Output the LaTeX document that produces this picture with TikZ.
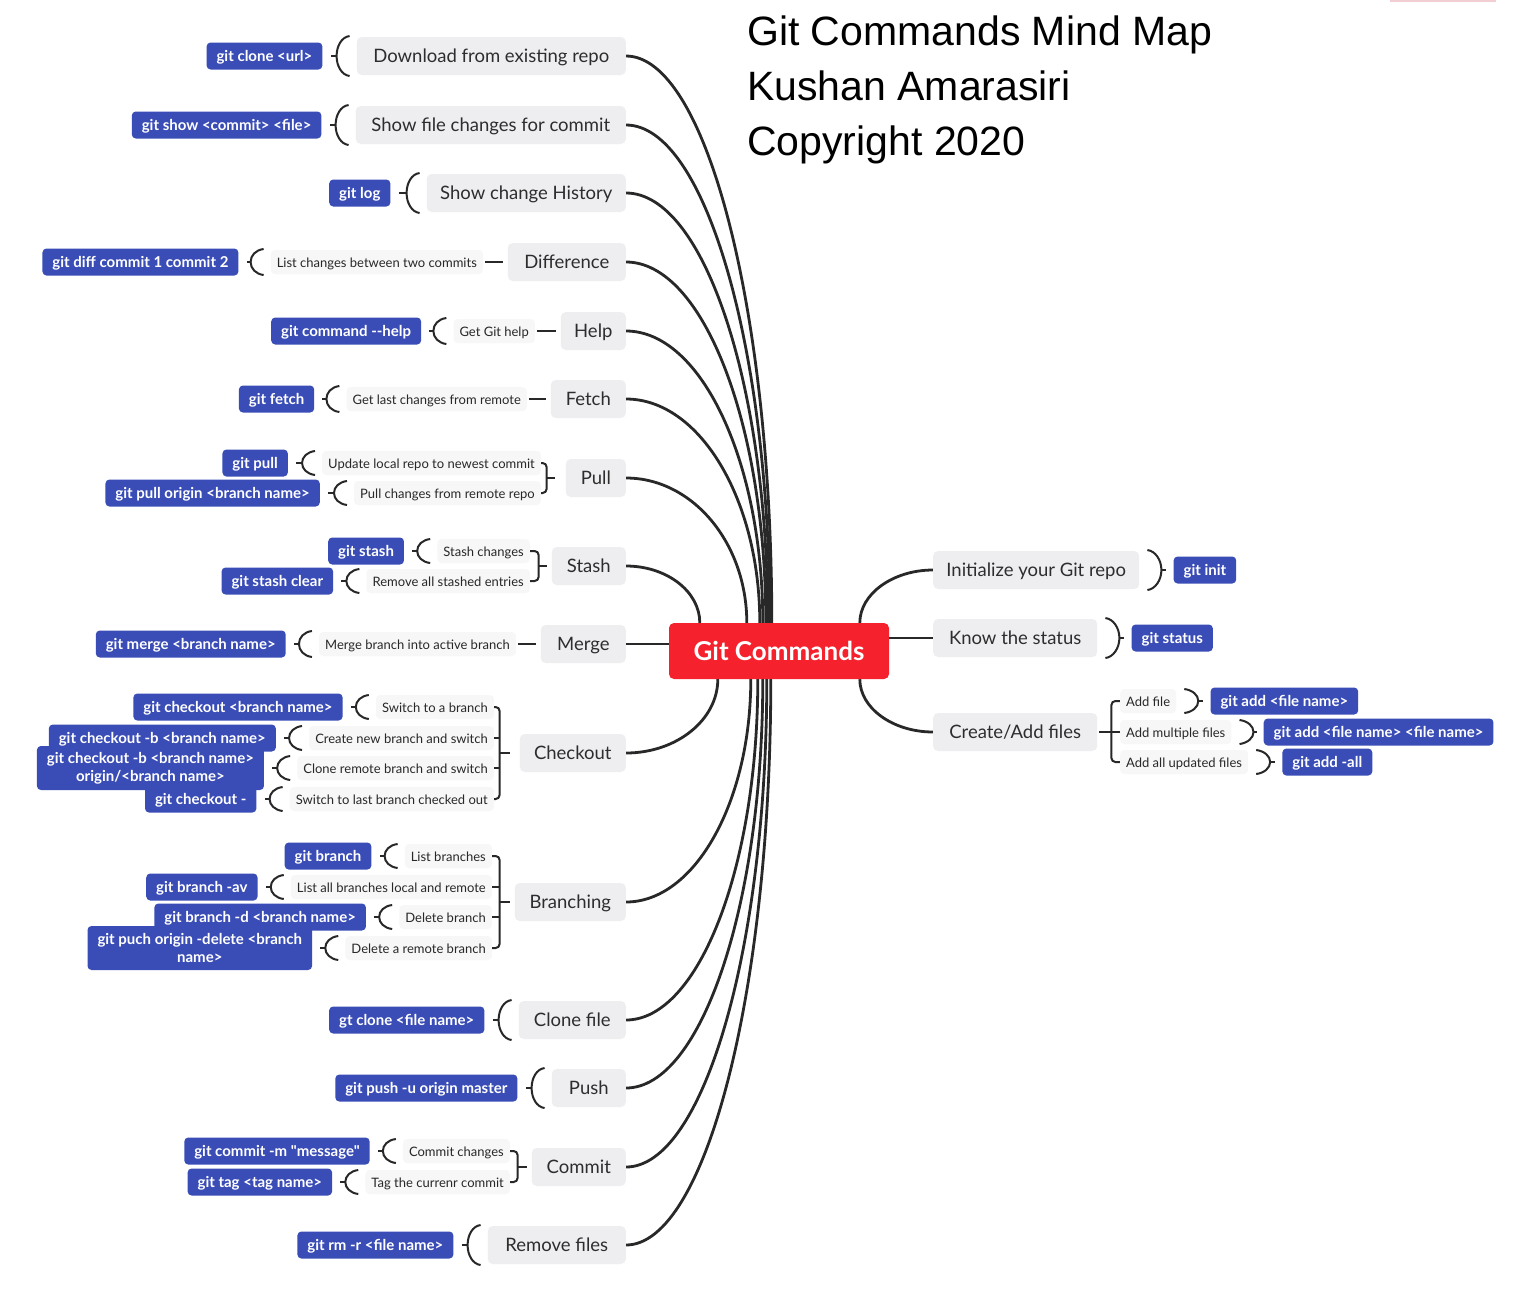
\documentclass[tikz,border=0pt]{standalone}
\usepackage{fontspec}
\setmainfont{Lato}[Ligatures=TeXOff]
\newfontfamily\titlefont{Liberation Sans}
\usetikzlibrary{calc}
\definecolor{topicfill}{RGB}{238,237,240}
\definecolor{descfill}{RGB}{247,247,247}
\definecolor{topictext}{RGB}{45,45,45}
\definecolor{desctext}{RGB}{40,40,40}
\definecolor{cmdblue}{RGB}{58,77,182}
\definecolor{gcred}{RGB}{245,34,45}
\definecolor{linec}{RGB}{40,40,40}
\definecolor{topline}{RGB}{242,205,210}
\pgfdeclarelayer{bg}
\pgfdeclarelayer{lines}
\pgfsetlayers{bg,lines,main}
\tikzset{
  topic/.style={fill=topicfill, rounded corners=5pt, minimum height=38pt, inner sep=0pt,
    text=topictext, font=\fontsize{18.5}{20}\selectfont, text height=15pt, text depth=2pt},
  desc/.style={fill=descfill, rounded corners=4pt, minimum height=24pt, inner xsep=6pt, inner ysep=0pt,
    text=desctext, font=\fontsize{13}{14}\selectfont, text height=11pt, text depth=1pt},
  cmdbase/.style={fill=cmdblue, rounded corners=4pt, inner xsep=10pt, text=white,
    font=\bfseries\fontsize{15}{18}\selectfont},
  cmd/.style={cmdbase, minimum height=27pt, inner ysep=0pt, text height=12.5pt, text depth=1.5pt},
  cmdtwo/.style={cmdbase, align=center, inner ysep=4pt, minimum height=44pt},
  conn/.style={draw=linec, line width=2pt},
  mainconn/.style={draw=linec, line width=2.8pt},
  titletext/.style={anchor=base west, inner sep=0pt, font=\titlefont\fontsize{41}{54}\selectfont},
}
% left bracket "(" : #1 command node (left), #2 node on the right, #3 half height
\newcommand\mylbr[3]{%
  \draw[conn] ($(#2.west)+(-7,-#3)$) .. controls ($(#2.west)+(-15,{-#3+1})$) and ($(#2.west)+(-20,{-0.5*#3})$) .. ($(#2.west)+(-20,0)$)
     .. controls ($(#2.west)+(-20,{0.5*#3})$) and ($(#2.west)+(-15,{#3-1})$) .. ($(#2.west)+(-7,#3)$);
  \draw[conn] ($(#2.west)+(-20,0)$) -- ($(#1.east)+(8,0)$);}
% right bracket ")" : #1 node on the left, #2 command node (right), #3 half height
\newcommand\myrbr[3]{%
  \draw[conn] ($(#1.east)+(8,-#3)$) .. controls ($(#1.east)+(16,{-#3+1})$) and ($(#1.east)+(22,{-0.5*#3})$) .. ($(#1.east)+(22,0)$)
     .. controls ($(#1.east)+(22,{0.5*#3})$) and ($(#1.east)+(16,{#3-1})$) .. ($(#1.east)+(8,#3)$);
  \draw[conn] ($(#1.east)+(22,0)$) -- ($(#2.west)+(-7,0)$);}
% main connectors from left topics to the central node
\newcommand\topconn[3]{%
  \draw[mainconn] (#1.east) .. controls +({0.55*(43+#2)},0) and +(0,{-0.55*(623-#3)}) .. ($(c.north west)+(#2,0)$);}
\newcommand\botconn[3]{%
  \draw[mainconn] (#1.east) .. controls +({0.55*(43+#2)},0) and +(0,{0.55*(#3-679)}) .. ($(c.south west)+(#2,0)$);}
\begin{document}
\begin{tikzpicture}[x=1pt,y=-1pt]
\begin{pgfonlayer}{bg}
\fill[white] (0,0) rectangle (1536,1302);
\fill[topline] (1390,0) rectangle (1496,2);
\end{pgfonlayer}
\useasboundingbox (0,0) rectangle (1536,1302);

% title
\node[titletext] (ti1) at (747,45) {Git Commands Mind Map};
\node[titletext] (ti2) at (747,100) {Kushan Amarasiri};
\node[titletext] (ti3) at (747,155) {Copyright 2020};

% central node
\node[fill=gcred, rounded corners=5pt, minimum width=220pt, minimum height=56pt, inner sep=0pt,
  text=white, font=\bfseries\fontsize{26}{30}\selectfont, text height=21pt, text depth=2pt] (c) at (779,651) {Git Commands};

% ---------------- left topics ----------------
\node[topic, minimum width=269pt, anchor=east] (T1) at (626,56) {Download from existing repo};
\node[topic, minimum width=270pt, anchor=east] (T2) at (626,125) {Show file changes for commit};
\node[topic, minimum width=199pt, anchor=east] (T3) at (626,193) {Show change History};
\node[topic, minimum width=118pt, anchor=east] (T4) at (626,262) {Difference};
\node[topic, minimum width=65pt, anchor=east] (T5) at (626,331) {Help};
\node[topic, minimum width=75pt, anchor=east] (T6) at (626,399) {Fetch};
\node[topic, minimum width=60pt, anchor=east] (T7) at (626,478) {Pull};
\node[topic, minimum width=74pt, anchor=east] (T8) at (626,566) {Stash};
\node[topic, minimum width=85pt, anchor=east] (T9) at (626,644) {Merge};
\node[topic, minimum width=106pt, anchor=east] (T10) at (626,753) {Checkout};
\node[topic, minimum width=111pt, anchor=east] (T11) at (626,902) {Branching};
\node[topic, minimum width=107pt, anchor=east] (T12) at (626,1020) {Clone file};
\node[topic, minimum width=74pt, anchor=east] (T13) at (626,1088) {Push};
\node[topic, minimum width=94pt, anchor=east] (T14) at (626,1167) {Commit};
\node[topic, minimum width=138pt, anchor=east] (T15) at (626,1245) {Remove files};

% ---------------- descriptions (left) ----------------
\node[desc, anchor=east] (D4) at (483,262) {List changes between two commits};
\node[desc, anchor=east] (D5) at (535,331) {Get Git help};
\node[desc, anchor=east] (D6) at (527,399) {Get last changes from remote};
\node[desc, anchor=east] (D7a) at (541,463) {Update local repo to newest commit};
\node[desc, anchor=east] (D7b) at (541,493) {Pull changes from remote repo};
\node[desc, anchor=east] (D8a) at (530,551) {Stash changes};
\node[desc, anchor=east] (D8b) at (530,581) {Remove all stashed entries};
\node[desc, anchor=east] (D9) at (516,644) {Merge branch into active branch};
\node[desc, anchor=east] (D10a) at (494,707) {Switch to a branch};
\node[desc, anchor=east] (D10b) at (494,738) {Create new branch and switch};
\node[desc, anchor=east] (D10c) at (494,768) {Clone remote branch and switch};
\node[desc, anchor=east] (D10d) at (494,799) {Switch to last branch checked out};
\node[desc, anchor=east] (D11a) at (492,856) {List branches};
\node[desc, anchor=east] (D11b) at (492,887) {List all branches local and remote};
\node[desc, anchor=east] (D11c) at (492,917) {Delete branch};
\node[desc, anchor=east] (D11d) at (492,948) {Delete a remote branch};
\node[desc, anchor=east] (D14a) at (510,1151) {Commit changes};
\node[desc, anchor=east] (D14b) at (510,1182) {Tag the currenr commit};

% ---------------- commands (left) ----------------
\node[cmd, anchor=east] (C1) at ($(T1.west)+(-34,0)$) {git clone <url>};
\node[cmd, anchor=east] (C2) at ($(T2.west)+(-34,0)$) {git show <commit> <file>};
\node[cmd, anchor=east] (C3) at ($(T3.west)+(-36,0)$) {git log};
\node[cmd, anchor=east] (C4) at ($(D4.west)+(-32,0)$) {git diff commit 1 commit 2};
\node[cmd, anchor=east] (C5) at ($(D5.west)+(-32,0)$) {git command --help};
\node[cmd, anchor=east] (C6) at ($(D6.west)+(-32,0)$) {git fetch};
\node[cmd, anchor=east] (C7a) at ($(D7a.west)+(-34,0)$) {git pull};
\node[cmd, anchor=east] (C7b) at ($(D7b.west)+(-34,0)$) {git pull origin <branch name>};
\node[cmd, anchor=east] (C8a) at ($(D8a.west)+(-33,0)$) {git stash};
\node[cmd, anchor=east] (C8b) at ($(D8b.west)+(-33,0)$) {git stash clear};
\node[cmd, anchor=east] (C9) at ($(D9.west)+(-33,0)$) {git merge <branch name>};
\node[cmd, anchor=east] (C10a) at ($(D10a.west)+(-33,0)$) {git checkout <branch name>};
\node[cmd, anchor=east] (C10b) at ($(D10b.west)+(-33,0)$) {git checkout -b <branch name>};
\node[cmdtwo, anchor=east] (C10c) at ($(D10c.west)+(-33,0)$) {git checkout -b <branch name>\\origin/<branch name>};
\node[cmd, anchor=east] (C10d) at ($(D10d.west)+(-33,0)$) {git checkout -};
\node[cmd, anchor=east] (C11a) at ($(D11a.west)+(-33,0)$) {git branch};
\node[cmd, anchor=east] (C11b) at ($(D11b.west)+(-33,0)$) {git branch -av};
\node[cmd, anchor=east] (C11c) at ($(D11c.west)+(-33,0)$) {git branch -d <branch name>};
\node[cmdtwo, anchor=east] (C11d) at ($(D11d.west)+(-33,0)$) {git puch origin -delete <branch\\name>};
\node[cmd, anchor=east] (C12) at ($(T12.west)+(-34,0)$) {gt clone <file name>};
\node[cmd, anchor=east] (C13) at ($(T13.west)+(-34,0)$) {git push -u origin master};
\node[cmd, anchor=east] (C14a) at ($(D14a.west)+(-33,0)$) {git commit -m "message"};
\node[cmd, anchor=east] (C14b) at ($(D14b.west)+(-33,0)$) {git tag <tag name>};
\node[cmd, anchor=east] (C15) at ($(T15.west)+(-34,0)$) {git rm -r <file name>};

% ---------------- right side ----------------
\node[topic, minimum width=206pt, anchor=west] (R1) at (933,570) {Initialize your Git repo};
\node[topic, minimum width=164pt, anchor=west] (R2) at (933,638) {Know the status};
\node[topic, minimum width=164pt, anchor=west] (R3) at (933,732) {Create/Add files};
\node[desc, anchor=west] (A1) at (1120,701) {Add file};
\node[desc, anchor=west] (A2) at (1120,732) {Add multiple files};
\node[desc, anchor=west] (A3) at (1120,762) {Add all updated files};
\node[cmd, anchor=west] (E1) at ($(R1.east)+(34,0)$) {git init};
\node[cmd, anchor=west] (E2) at ($(R2.east)+(34,0)$) {git status};
\node[cmd, anchor=west] (E3) at ($(A1.east)+(34,0)$) {git add <file name>};
\node[cmd, anchor=west] (E4) at ($(A2.east)+(32,0)$) {git add <file name> <file name>};
\node[cmd, anchor=west] (E5) at ($(A3.east)+(34,0)$) {git add -all};

\begin{pgfonlayer}{lines}
% main connectors, top-left
\topconn{T1}{103}{56}
\topconn{T2}{101}{125}
\topconn{T3}{99}{193}
\topconn{T4}{97}{262}
\topconn{T5}{94}{331}
\topconn{T6}{91}{399}
\topconn{T7}{78}{478}
\topconn{T8}{31}{566}
\draw[mainconn] (T9.east) -- (c.west |- T9.east);
% bottom-left
\botconn{T10}{49}{753}
\botconn{T11}{82}{902}
\botconn{T12}{89}{1020}
\botconn{T13}{94}{1088}
\botconn{T14}{98}{1167}
\botconn{T15}{102}{1245}
% right
\draw[mainconn] ($(c.north west)+(191,0)$) .. controls +(0,-29) and +(-40,0) .. (R1.west);
\draw[mainconn] (c.east |- R2.west) -- (R2.west);
\draw[mainconn] ($(c.south west)+(191,0)$) .. controls +(0,29) and +(-40,0) .. (R3.west);

% single description links
\draw[conn, shorten <=2pt, shorten >=5pt] (D4.east) -- (T4.west);
\draw[conn, shorten <=2pt, shorten >=5pt] (D5.east) -- (T5.west);
\draw[conn, shorten <=2pt, shorten >=5pt] (D6.east) -- (T6.west);
\draw[conn, shorten <=2pt, shorten >=5pt] (D9.east) -- (T9.west);

% braces
\coordinate (B7) at ($(T7.west)+(-19,0)$);
\draw[conn, rounded corners=4pt] (D7a.east) -| (B7) |- (D7b.east);
\draw[conn] (B7) -- ($(T7.west)+(-11,0)$);
\coordinate (B8) at ($(T8.west)+(-13,0)$);
\draw[conn, rounded corners=4pt] (D8a.east) -| (B8) |- (D8b.east);
\draw[conn] (B8) -- ($(T8.west)+(-5,0)$);
\coordinate (B10) at ($(T10.west)+(-20,0)$);
\draw[conn, rounded corners=4pt] (D10a.east) -| (B10) |- (D10d.east);
\draw[conn] (D10b.east) -- (B10 |- D10b.east);
\draw[conn] (D10c.east) -- (B10 |- D10c.east);
\draw[conn] (B10) -- ($(T10.west)+(-10,0)$);
\coordinate (B11) at ($(T11.west)+(-15,0)$);
\draw[conn, rounded corners=4pt] (D11a.east) -| (B11) |- (D11d.east);
\draw[conn] (D11b.east) -- (B11 |- D11b.east);
\draw[conn] (D11c.east) -- (B11 |- D11c.east);
\draw[conn] (B11) -- ($(T11.west)+(-5,0)$);
\coordinate (B14) at ($(T14.west)+(-14,0)$);
\draw[conn, rounded corners=4pt] (D14a.east) -| (B14) |- (D14b.east);
\draw[conn] (B14) -- ($(T14.west)+(-5,0)$);
\coordinate (BR3) at ($(R3.east)+(14,0)$);
\draw[conn, rounded corners=4pt] (A1.west) -| (BR3) |- (A3.west);
\draw[conn] (A2.west) -- (BR3 |- A2.west);
\draw[conn] (BR3) -- ($(R3.east)+(2,0)$);

% brackets
\mylbr{C1}{T1}{20}
\mylbr{C2}{T2}{20}
\mylbr{C3}{T3}{20}
\mylbr{C4}{D4}{13}
\mylbr{C5}{D5}{13}
\mylbr{C6}{D6}{13}
\mylbr{C7a}{D7a}{12}
\mylbr{C7b}{D7b}{12}
\mylbr{C8a}{D8a}{12}
\mylbr{C8b}{D8b}{12}
\mylbr{C9}{D9}{13}
\mylbr{C10a}{D10a}{12}
\mylbr{C10b}{D10b}{12}
\mylbr{C10c}{D10c}{12}
\mylbr{C10d}{D10d}{12}
\mylbr{C11a}{D11a}{12}
\mylbr{C11b}{D11b}{12}
\mylbr{C11c}{D11c}{12}
\mylbr{C11d}{D11d}{12}
\mylbr{C12}{T12}{20}
\mylbr{C13}{T13}{20}
\mylbr{C14a}{D14a}{12}
\mylbr{C14b}{D14b}{12}
\mylbr{C15}{T15}{20}
\myrbr{R1}{E1}{20}
\myrbr{R2}{E2}{20}
\myrbr{A1}{E3}{12}
\myrbr{A2}{E4}{12}
\myrbr{A3}{E5}{12}
\end{pgfonlayer}
\end{tikzpicture}
\end{document}
